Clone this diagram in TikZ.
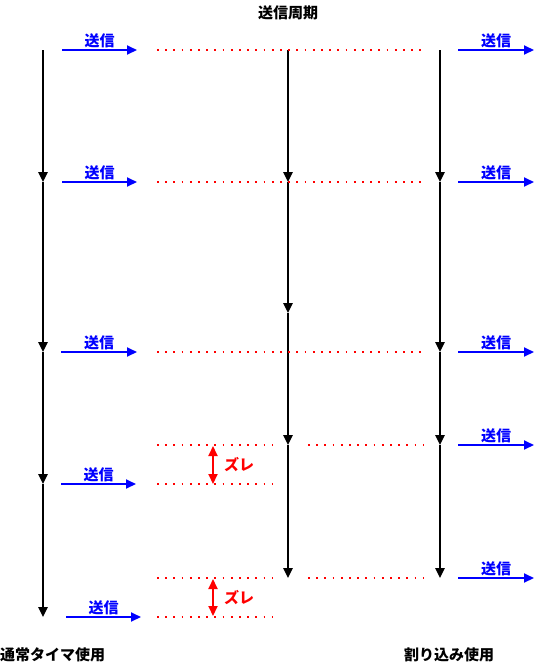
\documentclass[tikz,border=0pt]{standalone}
\usepackage{fontspec}
\newfontfamily\jp{Noto Sans CJK JP}
\usetikzlibrary{arrows.meta}
\begin{document}
\begin{tikzpicture}[x=1pt,y=-1pt,
  timeline/.style={draw=black,line width=1.5pt,-{Triangle[length=10pt,width=9.5pt]}},
  sendarrow/.style={draw=blue,line width=2pt,-{Triangle[length=10pt,width=9pt]}},
  sendlabel/.style={text=blue,font=\jp\bfseries\fontsize{15}{16}\selectfont,inner sep=0pt,anchor=base,yshift=3.5pt},
  reddots/.style={draw=red,line width=1.7pt,dash pattern=on 1.7pt off 6.5pt},
  shiftarrow/.style={draw=red,line width=2pt,{Triangle[length=10pt,width=9pt]}-{Triangle[length=10pt,width=9pt]}},
  shiftlabel/.style={text=red,font=\jp\bfseries\fontsize{15}{16}\selectfont,inner sep=0pt,anchor=west},
  caption/.style={font=\jp\bfseries\fontsize{15}{16}\selectfont,inner sep=0pt}]
\useasboundingbox (0,0) rectangle (535,665);
% timeline points
\foreach \n/\y in {0/50,1/182,2/352,3/484,4/617} \coordinate (L\n) at (43,\y);
\foreach \n/\y in {0/50,1/182,2/313,3/445,4/578} \coordinate (M\n) at (288,\y);
\foreach \n/\y in {0/50,1/182,2/352,3/445,4/578} \coordinate (R\n) at (440,\y);
\foreach \c in {L,M,R}{
  \draw[timeline] (\c0) -- (\c1);
  \draw[timeline] (\c1) -- (\c2);
  \draw[timeline] (\c2) -- (\c3);
  \draw[timeline] (\c3) -- (\c4);
}
% send arrows left
\foreach \n/\a/\b/\y in {a/62/137/50,b/62/137/182,c/61/137/352,d/61/136/484,e/66/141/617}{
  \coordinate (ls\n) at (\a,\y); \coordinate (le\n) at (\b,\y);
  \draw[sendarrow] (ls\n) -- (le\n) node[midway,sendlabel] (lt\n) {送信};
}
% send arrows right
\foreach \n/\y in {a/50,b/182,c/352,d/445,e/578}{
  \coordinate (rs\n) at (458,\y); \coordinate (re\n) at (534,\y);
  \draw[sendarrow] (rs\n) -- (re\n) node[midway,sendlabel] (rt\n) {送信};
}
% red dotted lines
\foreach \n/\a/\b/\y in {a/157/424/50,b/157/424/182,c/157/424/352,d/157/272/445,e/308/424/445,f/157/272/484,g/157/272/578,h/308/424/578,i/157/272/617}{
  \coordinate (ds\n) at (\a,\y); \coordinate (de\n) at (\b,\y);
  \draw[reddots] (ds\n) -- (de\n);
}
% shift arrows
\coordinate (s1a) at (213,446); \coordinate (s1b) at (213,484);
\coordinate (s2a) at (213,579); \coordinate (s2b) at (213,616);
\draw[shiftarrow] (s1a) -- (s1b);
\draw[shiftarrow] (s2a) -- (s2b);
\node[shiftlabel] (z1) at (224,465) {ズレ};
\node[shiftlabel] (z2) at (224,598) {ズレ};
% captions
\node[caption] (title) at (288,13) {送信周期};
\node[caption,anchor=west] (capL) at (0,655) {通常タイマ使用};
\node[caption] (capR) at (449,655) {割り込み使用};
\end{tikzpicture}
\end{document}
